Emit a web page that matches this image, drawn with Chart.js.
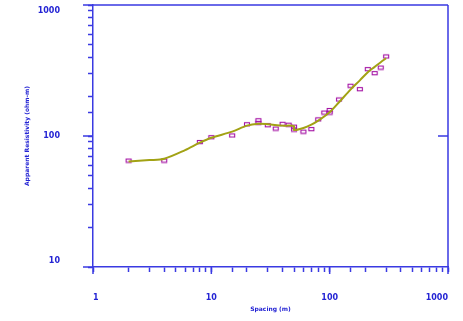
<!DOCTYPE html>
<html>
<head>
<meta charset="utf-8">
<script src="https://cdn.jsdelivr.net/npm/chart.js@4/dist/chart.umd.min.js"></script>
<style>
  html, body { margin: 0; padding: 0; background: #fff; }
  canvas { display: block; }
</style>
</head>
<body>
<canvas id="sounding" width="463" height="321"></canvas>
<script>
// observed apparent resistivity (squares)
const obsSpacing = [2, 4, 8, 10, 15, 20, 25, 25, 30, 35, 40, 45, 50, 50, 60, 70, 80, 90, 100, 100, 120, 150, 180, 210, 240, 270, 300];
const obsRho = [65, 65, 90, 98, 101, 123, 132, 126, 121, 114, 124, 122, 118, 112, 108, 113, 134, 151, 158, 151, 190, 242, 228, 324, 302, 333, 405];

// model curve
const fitSpacing = [2, 3, 4, 6, 8, 10, 15, 20, 25, 30, 40, 50, 50, 60, 70, 80, 100, 120, 150, 180, 210, 240, 270, 300];
const fitRho = [64, 65.5, 67, 78, 89, 97, 108, 120, 124, 123, 120, 119, 111, 115, 122, 131, 152, 181, 226, 266, 307, 337, 366, 392];

const xTickLabels = ["1", "10", "100", "1000"];
const yTickLabels = ["10", "100", "1000"];

const AXIS = "#3a3ae2";
const TEXT = "#2424d4";

// small hollow rectangle marker
const marker = document.createElement("canvas");
marker.width = 8;
marker.height = 6;
const mctx = marker.getContext("2d");
mctx.strokeStyle = "#a412a4";
mctx.lineWidth = 1.1;
mctx.strokeRect(1.5, 1.5, 5, 3.2);

// longer major ticks + top/right frame
const framePlugin = {
  id: "frame",
  afterDraw(chart) {
    const { ctx, chartArea, scales } = chart;
    const { left, right, top, bottom } = chartArea;
    ctx.save();
    ctx.strokeStyle = AXIS;
    ctx.lineWidth = 1.5;
    ctx.beginPath();
    ctx.moveTo(left - 10, top);
    ctx.lineTo(right, top);
    ctx.moveTo(right, top);
    ctx.lineTo(right, bottom + 7);
    xTickLabels.forEach(t => {
      const px = scales.x.getPixelForValue(Number(t));
      ctx.moveTo(px, bottom);
      ctx.lineTo(px, bottom + 7);
    });
    yTickLabels.forEach(t => {
      const py = scales.y.getPixelForValue(Number(t));
      ctx.moveTo(left - 10, py);
      ctx.lineTo(left, py);
    });
    const p100 = scales.y.getPixelForValue(100);
    ctx.moveTo(right - 10, p100);
    ctx.lineTo(right, p100);
    ctx.stroke();
    ctx.restore();
  }
};

function labelFor(list, value) {
  return list.find(t => Math.abs(Number(t) - value) < 1e-6);
}

new Chart(document.getElementById("sounding").getContext("2d"), {
  type: "scatter",
  data: {
    datasets: [
      {
        label: "Observed",
        data: obsSpacing.map((s, i) => ({ x: s, y: obsRho[i] })),
        pointStyle: marker,
        pointRadius: 4,
        showLine: false,
        order: 2
      },
      {
        label: "Model",
        data: fitSpacing.map((s, i) => ({ x: s, y: fitRho[i] })),
        showLine: true,
        borderColor: "#a2a214",
        borderWidth: 2,
        pointRadius: 0,
        tension: 0.3,
        fill: false,
        order: 1
      }
    ]
  },
  options: {
    responsive: false,
    animation: false,
    layout: { padding: { top: 3, right: 15, left: 0, bottom: 0 } },
    plugins: { legend: { display: false }, tooltip: { enabled: false } },
    scales: {
      x: {
        type: "logarithmic",
        min: 1,
        max: 1000,
        border: { color: AXIS, width: 1.5 },
        grid: { drawOnChartArea: false, tickLength: 5, color: AXIS, tickWidth: 1.5 },
        ticks: {
          autoSkip: false,
          maxRotation: 0,
          align: "inner",
          padding: 21,
          color: TEXT,
          font: { family: "DejaVu Sans", size: 8, weight: "bold" },
          callback: v => labelFor(xTickLabels, v) || ""
        },
        title: {
          display: true,
          text: "Spacing (m)",
          color: TEXT,
          font: { family: "DejaVu Sans", size: 6, weight: "bold" },
          padding: { top: 0, bottom: 8 }
        },
        afterFit(scale) {
          scale.height = 54;
          scale.paddingLeft = 0;
          scale.paddingRight = 0;
        }
      },
      y: {
        type: "logarithmic",
        min: 10,
        max: 1000,
        border: { color: AXIS, width: 1.5 },
        grid: { drawOnChartArea: false, tickLength: 5, color: AXIS, tickWidth: 1.5 },
        ticks: {
          autoSkip: false,
          padding: 28,
          color: TEXT,
          font: { family: "DejaVu Sans", size: 8, weight: "bold", lineHeight: 1.5 },
          callback: v => {
            const t = labelFor(yTickLabels, v);
            if (!t) return "";
            if (t === "1000") return ["", t];
            if (t === "10") return [t, ""];
            return t;
          }
        },
        title: {
          display: true,
          text: "Apparent Resistivity (ohm-m)",
          color: TEXT,
          font: { family: "DejaVu Sans", size: 6, weight: "bold" },
          padding: { top: 24, bottom: 0 }
        },
        afterFit(scale) {
          scale.width = 93;
          scale.paddingTop = 0;
          scale.paddingBottom = 0;
        }
      }
    }
  },
  plugins: [framePlugin]
});
</script>
</body>
</html>
